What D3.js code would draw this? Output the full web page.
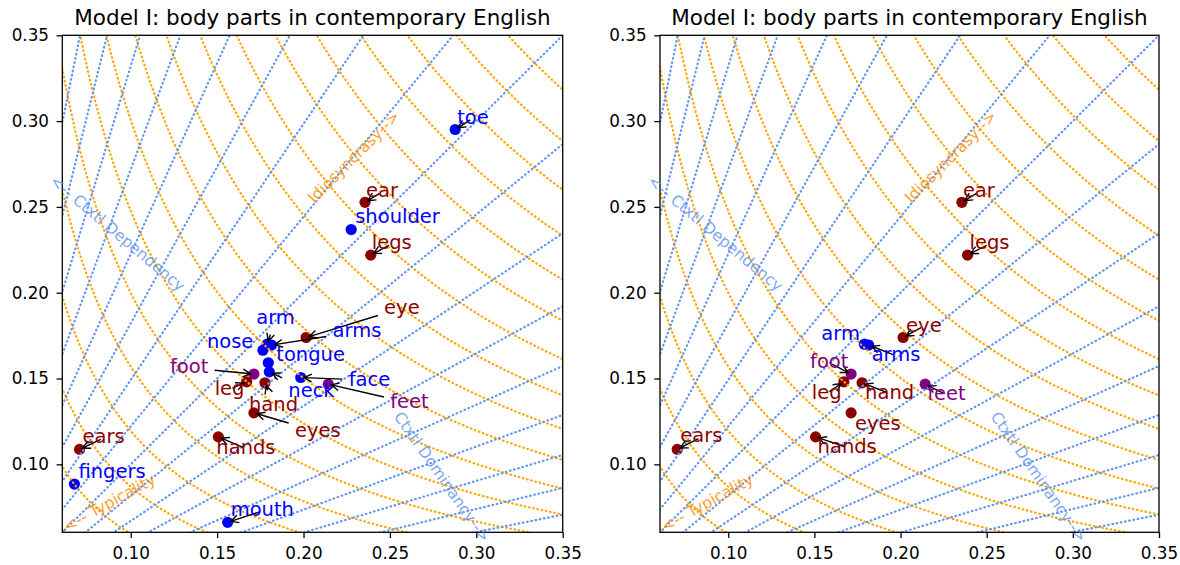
<!DOCTYPE html>
<html>
<head>
<meta charset="utf-8">
<script src="https://cdn.jsdelivr.net/npm/d3@7"></script>
<style>
  html, body { margin: 0; padding: 0; background: #fff; }
  svg { display: block; font-family: "DejaVu Sans", sans-serif; }
</style>
</head>
<body>
<svg id="chart" width="1180" height="565"></svg>
<script>
// ---- data -------------------------------------------------------------
const words   = ["toe","ear","shoulder","legs","eye","arm","arms","nose","tongue","neck",
                 "face","foot","leg","hand","feet","eyes","hands","ears","fingers","mouth"];
const xValues = [0.2878,0.2356,0.2276,0.2389,0.2015,0.1790,0.1815,0.1765,0.1796,0.1802,
                 0.1984,0.1713,0.1671,0.1777,0.2143,0.1713,0.1507,0.0704,0.0674,0.1561];
const yValues = [0.2951,0.2527,0.2368,0.2219,0.1739,0.1700,0.1695,0.1665,0.1592,0.1539,
                 0.1506,0.1526,0.1481,0.1475,0.1467,0.1300,0.1160,0.1087,0.0885,0.0662];
const wordColors = ["blue","darkred","blue","darkred","darkred","blue","blue","blue","blue","blue",
                    "blue","purple","darkred","darkred","purple","darkred","darkred","darkred","blue","blue"];
// words shown in the second panel (singular / plural pairs)
const pairWords = ["ear","legs","eye","arm","arms","foot","leg","hand","feet","eyes","hands","ears"];

const tickValues = [0.10, 0.15, 0.20, 0.25, 0.30, 0.35];
const tickLabels = ["0.10", "0.15", "0.20", "0.25", "0.30", "0.35"];
const axisDomain = [0.0604, 0.35];

// grid: log(y/x) levels (contextual dependency) and sqrt(x*y) levels (typicality)
const ratioLevels = [-1.6,-1.4,-1.2,-1.0,-0.8,-0.6,-0.4,-0.2,0,0.2,0.4,0.6,0.8,1.0,1.2,1.4,1.6];
const meanLevels  = [0.0612,0.0772,0.0933,0.1093,0.1253,0.1414,0.1574,0.1734,0.1895,0.2055,
                     0.2215,0.2376,0.2536,0.2696,0.2857,0.3017,0.3177,0.3338,0.3498];

const titleText = "Model I: body parts in contemporary English";
const axisNotes = [
  { text: "<-- Ctxtl Dependency", x: 0.0548, y: 0.2665, angle: 40,  color: "cornflowerblue" },
  { text: "Idiosyncrasy-->",      x: 0.2040, y: 0.2540, angle: -45, color: "darkorange" },
  { text: "<-- Typicality",       x: 0.0617, y: 0.0633, angle: -29, color: "darkorange" },
  { text: "Ctxtl Dominancy-->",   x: 0.2545, y: 0.1297, angle: 55,  color: "cornflowerblue" }
];

// label placement (pixel offsets of the text baseline from the marker)
const leftLabelOffsets = {
  toe:[2,-6], ear:[1,-5], shoulder:[4,-7], legs:[1,-6], eye:[78,-24], arm:[-11,-20],
  arms:[61,-8], nose:[-56,-2], tongue:[8,-2], neck:[19,25], face:[48,8], foot:[-84,-1],
  leg:[-32,13], hand:[-16,28.5], feet:[62,24], eyes:[41,24], hands:[-2,17], ears:[3,-6],
  fingers:[4,-6], mouth:[3,-6]
};
const rightLabelOffsets = {
  ear:[1,-5], legs:[2,-6], eye:[3,-6], arm:[-43,-4], arms:[3,16], foot:[-41,-6],
  leg:[-32,17], hand:[3,16], feet:[2,16], eyes:[4,17], hands:[2,16], ears:[3,-7]
};

// ---- layout -------------------------------------------------------------
const svg = d3.select("#chart");
const plotTop = 35.3, plotBottom = 532.3;
const panels = [
  { left: 62.3, right: 562.7, words: words,     offsets: leftLabelOffsets },
  { left: 660,  right: 1159,  words: pairWords, offsets: rightLabelOffsets }
];
const labelSize = 19.5;

panels.forEach((p, pi) => {
  const x = d3.scaleLinear().domain(axisDomain).range([p.left, p.right]);
  const y = d3.scaleLinear().domain(axisDomain).range([plotBottom, plotTop]);
  const g = svg.append("g");

  const clipId = "clip" + pi;
  svg.append("clipPath").attr("id", clipId)
    .append("rect").attr("x", p.left).attr("y", plotTop)
    .attr("width", p.right - p.left).attr("height", plotBottom - plotTop);

  const plot = g.append("g").attr("clip-path", `url(#${clipId})`);

  const rows = p.words.map(w => {
    const i = words.indexOf(w);
    return { word: w, x: xValues[i], y: yValues[i], color: wordColors[i] };
  });

  // markers
  plot.selectAll("circle").data(rows).join("circle")
    .attr("cx", d => x(d.x)).attr("cy", d => y(d.y)).attr("r", 5.6)
    .attr("fill", d => d.color);

  // typicality curves: x*y = m^2
  const curve = d3.line().x(d => x(d[0])).y(d => y(d[1]));
  const tRange = d3.range(-2.2, 2.2001, 0.01);
  const dotStyle = sel => sel.attr("fill", "none").attr("stroke-width", 2.2)
    .attr("stroke-dasharray", "0.6 3.7").attr("stroke-linecap", "round");
  meanLevels.forEach(m => {
    const pts = tRange.map(t => [m * Math.exp(-t), m * Math.exp(t)]);
    plot.append("path").attr("d", curve(pts)).attr("stroke", "orange").call(dotStyle);
  });
  // dependency rays: y = exp(r) * x
  ratioLevels.forEach(r => {
    const k = Math.exp(r);
    plot.append("path").attr("d", curve([[0, 0], [1, k]])).attr("stroke", "cornflowerblue").call(dotStyle);
  });

  // frame
  g.append("rect").attr("x", p.left).attr("y", plotTop)
    .attr("width", p.right - p.left).attr("height", plotBottom - plotTop)
    .attr("fill", "none").attr("stroke", "#000").attr("stroke-width", 1.3);

  // axes
  const fmt = (d) => tickLabels[tickValues.indexOf(d)];
  const xAxis = g.append("g").attr("transform", `translate(0,${plotBottom})`)
    .call(d3.axisBottom(x).tickValues(tickValues).tickFormat(fmt).tickSize(5.7).tickPadding(9.3).tickSizeOuter(0));
  const yAxis = g.append("g").attr("transform", `translate(${p.left},0)`)
    .call(d3.axisLeft(y).tickValues(tickValues).tickFormat(fmt).tickSize(5.7).tickPadding(7.6).tickSizeOuter(0));
  [xAxis, yAxis].forEach(a => {
    a.select(".domain").remove();
    a.selectAll("line").attr("stroke", "#000").attr("stroke-width", 1.3);
    a.selectAll("text").attr("font-family", "DejaVu Sans").attr("font-size", 16.8).attr("fill", "#000");
  });

  // title
  g.append("text").attr("x", (p.left + p.right) / 2).attr("y", 25)
    .attr("text-anchor", "middle").attr("font-size", 21.5).attr("fill", "#000")
    .text(titleText);

  // annotations with arrows
  const ann = g.append("g");
  rows.forEach(d => {
    const px = x(d.x), py = y(d.y);
    const off = p.offsets[d.word];
    const tx = px + off[0], ty = py + off[1];
    const arrowG = ann.append("g");
    const t = ann.append("text").attr("x", tx).attr("y", ty)
      .attr("font-size", labelSize).attr("fill", d.color).text(d.word);
    const w = t.node().getComputedTextLength();
    const pad = 3.2;
    const x0 = tx - pad, x1 = tx + w + pad;
    const y0 = ty - 0.76 * labelSize - pad, y1 = ty + 0.21 * labelSize + pad;
    const cx = tx + w / 2, cy = ty + (0.21 - 0.76) / 2 * labelSize;
    let sx = cx, sy = cy;
    const inside = px >= x0 && px <= x1 && py >= y0 && py <= y1;
    const dx = px - cx, dy = py - cy;
    if (!inside) {
      let tExit = 1;
      if (dx > 0) tExit = Math.min(tExit, (x1 - cx) / dx);
      if (dx < 0) tExit = Math.min(tExit, (x0 - cx) / dx);
      if (dy > 0) tExit = Math.min(tExit, (y1 - cy) / dy);
      if (dy < 0) tExit = Math.min(tExit, (y0 - cy) / dy);
      sx = cx + dx * tExit; sy = cy + dy * tExit;
    }
    const len = Math.hypot(px - sx, py - sy);
    if (len < 7) return;
    const ux = (px - sx) / len, uy = (py - sy) / len;
    const shrink = 3.2;
    sx += ux * shrink; sy += uy * shrink;
    const ex = px - ux * shrink, ey = py - uy * shrink;
    const hl = 0.4 * labelSize, hw = 0.2 * labelSize;
    const bx = ex - ux * hl, by = ey - uy * hl;
    const nx = -uy, ny = ux;
    arrowG.append("path")
      .attr("d", `M${sx},${sy}L${ex},${ey}M${bx + nx * hw},${by + ny * hw}L${ex},${ey}L${bx - nx * hw},${by - ny * hw}`)
      .attr("fill", "none").attr("stroke", "#000").attr("stroke-width", 1.4);
  });

  // direction notes
  axisNotes.forEach(n => {
    g.append("text")
      .attr("transform", `translate(${x(n.x)},${y(n.y)}) rotate(${n.angle})`)
      .attr("dy", "0.35em").attr("font-size", 15.7)
      .attr("fill", n.color).attr("fill-opacity", 0.85)
      .text(n.text);
  });
});
</script>
</body>
</html>
